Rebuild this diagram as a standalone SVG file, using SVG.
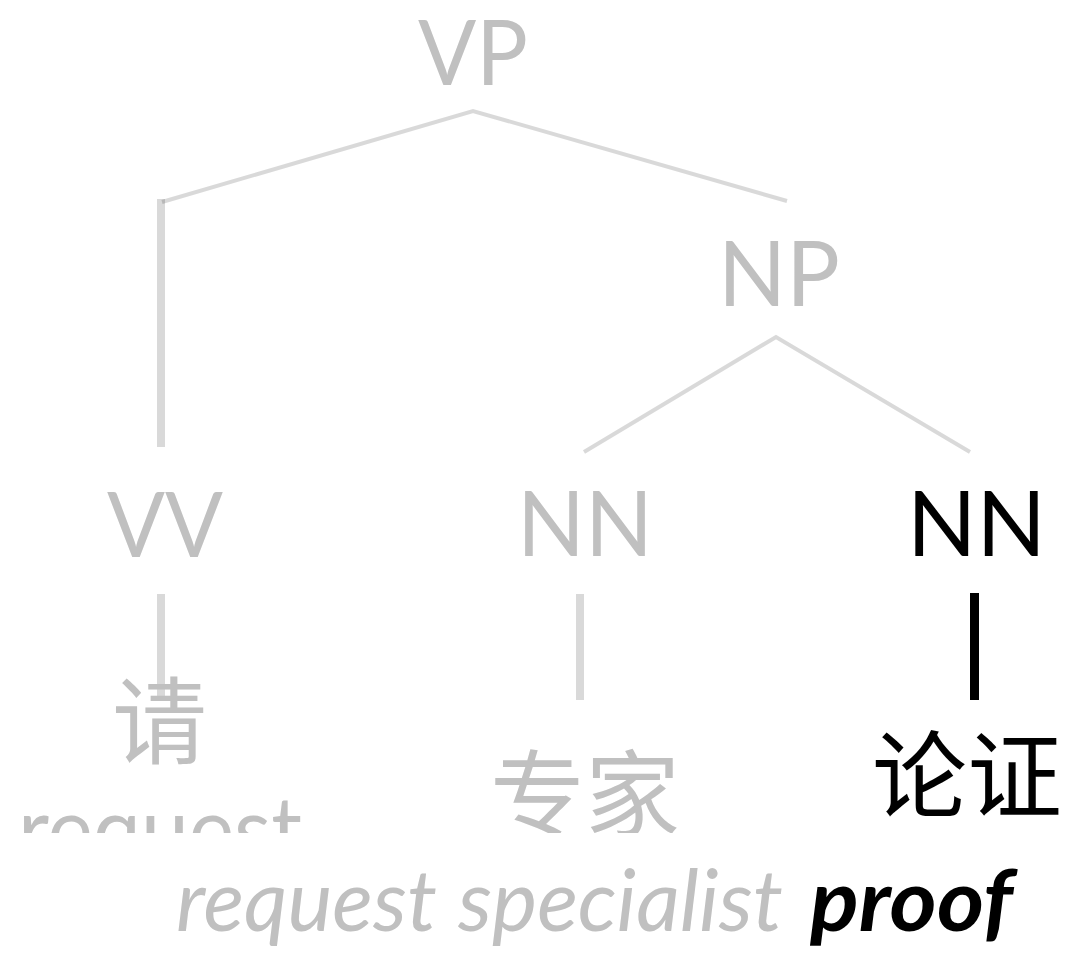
<svg xmlns="http://www.w3.org/2000/svg" width="1069" height="956" viewBox="0 0 1069 956">
<defs>
<style>
.lbl{font-family:"Lato","Noto Sans CJK SC",sans-serif;font-size:92px;fill:#c0c0c0}
.cjk{font-family:"Noto Sans CJK SC",sans-serif;font-size:95px;fill:#c0c0c0}
.gloss{font-family:"Lato","Noto Sans",sans-serif;font-style:italic;font-size:86px;fill:#c0c0c0}
text.hi{fill:#000}
.edge{stroke:#000;stroke-opacity:0.15;fill:none;stroke-linejoin:miter}
.thin{stroke-width:4}
.thick{stroke-width:8}
.edgehi{stroke:#000;stroke-width:9;fill:none}
</style>
<clipPath id="cut"><rect x="0" y="0" width="1069" height="833"/></clipPath>
</defs>
<rect width="1069" height="956" fill="#fff"/>
<g id="connectors">
<polyline class="edge thin" points="162,202 473,111 787,201"/>
<line class="edge thick" x1="161" y1="199" x2="161" y2="447"/>
<polyline class="edge thin" points="584,452 776,337 970,452"/>
<line class="edge thick" x1="161" y1="594" x2="161" y2="698"/>
<line class="edge thick" x1="580" y1="594" x2="580" y2="700"/>
<line class="edgehi" x1="974.5" y1="593" x2="974.5" y2="700"/>
</g>
<g id="node-vp"><text class="lbl" x="418" y="85" textLength="110" lengthAdjust="spacingAndGlyphs">VP</text></g>
<g id="node-np"><text class="lbl" x="718" y="306" textLength="122" lengthAdjust="spacingAndGlyphs">NP</text></g>
<g id="node-vv"><text class="lbl" x="107" y="557" textLength="116" lengthAdjust="spacingAndGlyphs">VV</text></g>
<g id="node-nn1"><text class="lbl" x="517" y="556" textLength="136" lengthAdjust="spacingAndGlyphs">NN</text></g>
<g id="node-nn2"><text class="lbl hi" x="907" y="556" textLength="139" lengthAdjust="spacingAndGlyphs">NN</text></g>
<g id="word-qing"><text class="cjk" x="112" y="757">请</text></g>
<g id="word-request-top" clip-path="url(#cut)"><text class="lbl" x="18" y="862" font-size="84" textLength="284" lengthAdjust="spacingAndGlyphs">request</text></g>
<g id="word-zhuanjia" clip-path="url(#cut)"><text class="cjk" x="490" y="830">专家</text></g>
<g id="word-lunzheng"><text class="cjk hi" x="872" y="811">论证</text></g>
<g id="gloss">
<text class="gloss" x="176" y="931" textLength="261" lengthAdjust="spacingAndGlyphs">request</text>
<text class="gloss" x="458" y="931" textLength="325" lengthAdjust="spacingAndGlyphs">specialist</text>
<text class="gloss hi" x="810" y="931" font-weight="bold" textLength="203" lengthAdjust="spacingAndGlyphs">proof</text>
</g>
</svg>
